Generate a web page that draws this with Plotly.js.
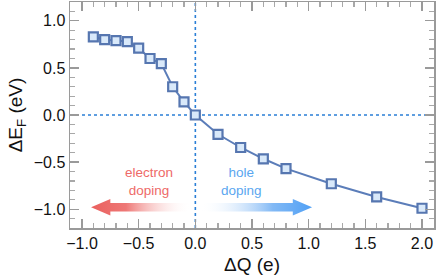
<!DOCTYPE html>
<html>
<head>
<meta charset="utf-8">
<script src="https://cdn.plot.ly/plotly-3.0.1.min.js"></script>
<style>html,body{margin:0;padding:0;background:#fff;}#chart{width:436px;height:280px;}</style>
</head>
<body>
<div id="chart"></div>
<script>
// Data
const dQ = [-0.9, -0.8, -0.7, -0.6, -0.5, -0.4, -0.3, -0.2, -0.1, 0.0, 0.2, 0.4, 0.6, 0.8, 1.2, 1.6, 2.0];
const dEF = [0.83, 0.80, 0.79, 0.78, 0.71, 0.60, 0.545, 0.30, 0.14, 0.0, -0.205, -0.345, -0.465, -0.57, -0.73, -0.87, -0.99];
const xTicks = [-1.0, -0.5, 0.0, 0.5, 1.0, 1.5, 2.0];
const yTicks = [1.0, 0.5, 0.0, -0.5, -1.0];
const xTickText = ['\u22121.0', '\u22120.5', '0.0', '0.5', '1.0', '1.5', '2.0'];
const yTickText = ['1.0', '0.5', '0.0', '\u22120.5', '\u22121.0'];
const labelElectron = 'electron<br>doping';
const labelHole = 'hole<br>doping';

// arrow annotation geometry (data units)
const arrowY = -0.98;
const redArrow = {from: -0.04, to: -0.92};
const blueArrow = {from: 0.04, to: 1.03};

function arrowPoly(a) {
  const dir = Math.sign(a.to - a.from);
  const headLen = 0.17, headH = 0.088, shaftH = 0.046;
  const base = a.to - dir * headLen;
  return {
    x: [a.from, base, base, a.to, base, base, a.from, a.from],
    y: [arrowY - shaftH, arrowY - shaftH, arrowY - headH, arrowY, arrowY + headH, arrowY + shaftH, arrowY + shaftH, arrowY - shaftH]
  };
}
const rp = arrowPoly(redArrow), bp = arrowPoly(blueArrow);

const traces = [
  {x: rp.x, y: rp.y, type: 'scatter', mode: 'lines', fill: 'toself', line: {width: 0, color: 'rgba(0,0,0,0)'},
   fillgradient: {type: 'horizontal', colorscale: [[0, 'rgb(234,96,94)'], [0.35, 'rgb(238,120,118)'], [1, 'rgba(255,255,255,0)']]},
   hoverinfo: 'skip', showlegend: false},
  {x: bp.x, y: bp.y, type: 'scatter', mode: 'lines', fill: 'toself', line: {width: 0, color: 'rgba(0,0,0,0)'},
   fillgradient: {type: 'horizontal', colorscale: [[0, 'rgba(255,255,255,0)'], [0.65, 'rgb(130,185,245)'], [1, 'rgb(80,160,245)']]},
   hoverinfo: 'skip', showlegend: false},
  {x: dQ, y: dEF, type: 'scatter', mode: 'lines+markers',
   line: {color: '#5b7db9', width: 2},
   marker: {symbol: 'square', size: 9, color: '#d9e9fa', line: {color: '#5676b0', width: 2.2}},
   showlegend: false, hoverinfo: 'skip'}
];

const axisCommon = {
  showline: true, linecolor: '#9a9a9a', linewidth: 1.5, mirror: 'allticks',
  ticks: 'inside', ticklen: 9, tickwidth: 1.3, tickcolor: '#9a9a9a',
  showgrid: false, zeroline: false,
  tickfont: {family: 'Liberation Sans, Arial, sans-serif', size: 16, color: '#111'},
  minor: {dtick: 0.1, ticks: 'inside', ticklen: 5, tickwidth: 1.2, tickcolor: '#a8a8a8', showgrid: false}
};

const layout = {
  width: 436, height: 280,
  margin: {l: 70, r: 2, t: 2, b: 52},
  paper_bgcolor: '#fff', plot_bgcolor: '#fff',
  font: {family: 'Liberation Sans, Arial, sans-serif', color: '#111'},
  xaxis: Object.assign({}, axisCommon, {
    range: [-1.106, 2.106], tickvals: xTicks, ticktext: xTickText,
    title: {text: '\u0394Q (e)', font: {size: 19}, standoff: 7}
  }),
  yaxis: Object.assign({}, axisCommon, {
    range: [-1.2, 1.2], tickvals: yTicks, ticktext: yTickText,
    title: {text: '\u0394E<sub>F</sub> (eV)', font: {size: 19}, standoff: 6}
  }),
  shapes: [
    {type: 'line', xref: 'x', yref: 'paper', x0: 0, x1: 0, y0: 0, y1: 1, line: {color: '#2b7fd6', width: 1.6, dash: 'dot'}, layer: 'below'},
    {type: 'line', xref: 'paper', yref: 'y', x0: 0, x1: 1, y0: 0, y1: 0, line: {color: '#2b7fd6', width: 1.6, dash: 'dot'}, layer: 'below'}
  ],
  annotations: [
    {x: -0.41, y: -0.71, xref: 'x', yref: 'y', text: labelElectron, showarrow: false,
     font: {size: 13.5, color: '#ee6a68'}, align: 'center'},
    {x: 0.41, y: -0.71, xref: 'x', yref: 'y', text: labelHole, showarrow: false,
     font: {size: 13.5, color: '#5aa6f0'}, align: 'center'}
  ]
};

Plotly.newPlot('chart', traces, layout, {staticPlot: true, displayModeBar: false});
</script>
</body>
</html>
